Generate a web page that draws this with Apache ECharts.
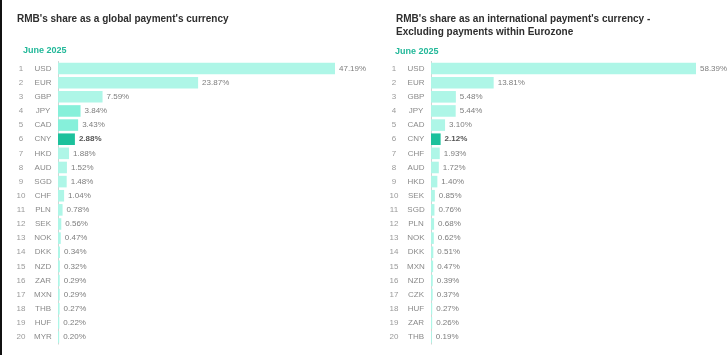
<!DOCTYPE html>
<html><head><meta charset="utf-8">
<script src="https://cdn.jsdelivr.net/npm/echarts@6/dist/echarts.min.js"></script>
<style>html,body{margin:0;padding:0;background:#fff}#c{width:728px;height:355px}</style>
</head><body><div id="c"></div>
<script>
const leftTitle = "RMB's share as a global payment's currency";
const rightTitle = "RMB's share as an international payment's currency -\nExcluding payments within Eurozone";
const periodLabel = "June 2025";
const leftCategories = ["USD","EUR","GBP","JPY","CAD","CNY","HKD","AUD","SGD","CHF","PLN","SEK","NOK","DKK","NZD","ZAR","MXN","THB","HUF","MYR"];
const leftValues = [47.19,23.87,7.59,3.84,3.43,2.88,1.88,1.52,1.48,1.04,0.78,0.56,0.47,0.34,0.32,0.29,0.29,0.27,0.22,0.20];
const rightCategories = ["USD","EUR","GBP","JPY","CAD","CNY","CHF","AUD","HKD","SEK","SGD","PLN","NOK","DKK","MXN","NZD","CZK","HUF","ZAR","THB"];
const rightValues = [58.39,13.81,5.48,5.44,3.10,2.12,1.93,1.72,1.40,0.85,0.76,0.68,0.62,0.51,0.47,0.39,0.37,0.27,0.26,0.19];
const leftMediumCodes = ["JPY","CAD"];
const highlightCode = "CNY";

const FONT = "Liberation Sans, Arial, sans-serif";
const LIGHT = "#aef6e7", MEDIUM = "#86f0da", HIGH = "#1cc19c";

function buildData(cats, vals, medium) {
  return vals.map((v, i) => {
    const c = cats[i];
    const color = c === highlightCode ? HIGH : (medium.includes(c) ? MEDIUM : LIGHT);
    const item = { value: v, itemStyle: { color } };
    if (c === highlightCode) item.label = { fontWeight: 'bold', color: '#555' };
    return item;
  });
}
function yAxisFor(cats, gridIndex) {
  return {
    type: 'category', gridIndex, data: cats, inverse: true,
    axisLine: { show: true, lineStyle: { color: '#cfd6d4', width: 1 } },
    axisTick: { show: false },
    axisLabel: {
      margin: 2, interval: 0,
      formatter: (v) => '{n|' + (cats.indexOf(v) + 1) + '}{c|' + v + '}',
      rich: {
        n: { width: 14, align: 'right', color: '#9a9a9a', fontSize: 8, fontFamily: FONT, padding: [0, 2, 0, 0] },
        c: { width: 26, align: 'center', color: '#8a8a8a', fontSize: 8, fontFamily: FONT }
      }
    }
  };
}
function xAxisFor(gridIndex) {
  return { type: 'value', gridIndex, min: 0, max: 'dataMax', show: false, splitLine: { show: false } };
}
function seriesFor(cats, vals, medium, idx) {
  return {
    type: 'bar', xAxisIndex: idx, yAxisIndex: idx,
    data: buildData(cats, vals, medium),
    barCategoryGap: '18%',
    label: {
      show: true, position: 'right', distance: 4,
      formatter: (p) => p.value.toFixed(2) + '%',
      color: '#7d7d7d', fontSize: 8, fontFamily: FONT
    },
    animation: false
  };
}

const chart = echarts.init(document.getElementById('c'), null, { renderer: 'canvas' });
chart.setOption({
  backgroundColor: '#fff',
  animation: false,
  title: [
    { text: leftTitle, left: 17, top: 14, padding: 0, textStyle: { fontSize: 10, fontWeight: 'bold', color: '#2e2e2e', fontFamily: FONT } },
    { text: rightTitle, left: 396, top: 12, padding: 0, textStyle: { fontSize: 10, fontWeight: 'bold', color: '#2e2e2e', fontFamily: FONT, lineHeight: 13.5 } },
    { text: periodLabel, left: 23, top: 46.5, padding: 0, textStyle: { fontSize: 9, fontWeight: 'bold', color: '#22b899', fontFamily: FONT } },
    { text: periodLabel, left: 395, top: 47.5, padding: 0, textStyle: { fontSize: 9, fontWeight: 'bold', color: '#22b899', fontFamily: FONT } }
  ],
  graphic: [{ type: 'rect', shape: { x: 0, y: 0, width: 2, height: 355 }, style: { fill: '#111' } }],
  grid: [
    { left: 58, top: 61.5, width: 277, height: 282.6 },
    { left: 431, top: 61.5, width: 265, height: 282.6 }
  ],
  xAxis: [xAxisFor(0), xAxisFor(1)],
  yAxis: [yAxisFor(leftCategories, 0), yAxisFor(rightCategories, 1)],
  series: [
    seriesFor(leftCategories, leftValues, leftMediumCodes, 0),
    seriesFor(rightCategories, rightValues, [], 1)
  ]
});
</script></body></html>
